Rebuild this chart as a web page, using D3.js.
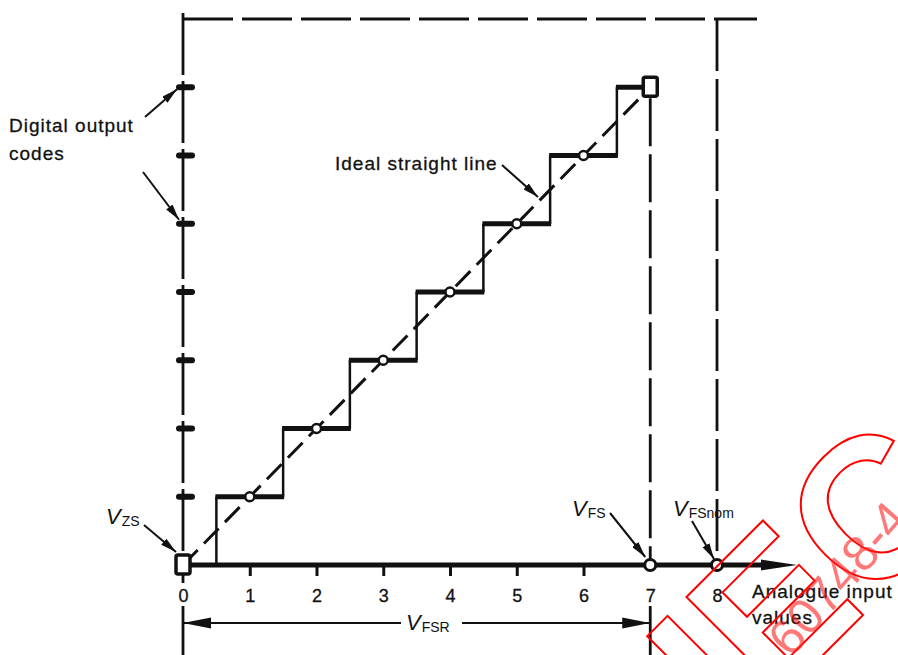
<!DOCTYPE html>
<html>
<head>
<meta charset="utf-8">
<script src="https://cdn.jsdelivr.net/npm/d3@7"></script>
<style>
	body { margin: 0; background: #fff; }
	svg text { font-family: "Liberation Sans", Arial, Helvetica, sans-serif; fill: #111; }
	.lbl { font-size: 19px; letter-spacing: 1px; stroke: #111; stroke-width: 0.3px; }
	.tick text { font-size: 18px; stroke: #111; stroke-width: 0.3px; }
</style>
</head>
<body>
<div id="graphicContainer"></div>
<script>

// analogue input (in LSB) and the digital output codes
var xTicks = [0, 1, 2, 3, 4, 5, 6, 7, 8];
var codeLevels = [1, 2, 3, 4, 5, 6, 7];
var stepStarts = [0.5, 1.5, 2.5, 3.5, 4.5, 5.5, 6.5];
var stepEnds = [1.5, 2.5, 3.5, 4.5, 5.5, 6.5, 7];
var codeCentres = [1, 2, 3, 4, 5, 6];
var idealLine = [{v: 0, code: 0}, {v: 7, code: 7}];
var vFS = 7;
var vFSnom = 8;
var topCode = 8;

var ink = "#111";

var svg = d3.select("#graphicContainer").append("svg")
	.attr("width", 898)
	.attr("height", 655)
	.style("display", "block");

var x = d3.scaleLinear().domain([0, 8]).range([183, 717]);
var y = d3.scaleLinear().domain([0, 8]).range([565, 19]);

var defs = svg.append("defs");

defs.append("marker")
	.attr("id", "head")
	.attr("viewBox", "0 -4 16 8")
	.attr("refX", 16)
	.attr("refY", 0)
	.attr("markerWidth", 16)
	.attr("markerHeight", 8)
	.attr("markerUnits", "userSpaceOnUse")
	.attr("orient", "auto")
  .append("path")
	.attr("d", "M0,-4L16,0L0,4Z")
	.attr("fill", ink);

defs.append("marker")
	.attr("id", "dim")
	.attr("viewBox", "0 -6 28 12")
	.attr("refX", 28)
	.attr("refY", 0)
	.attr("markerWidth", 28)
	.attr("markerHeight", 12)
	.attr("markerUnits", "userSpaceOnUse")
	.attr("orient", "auto-start-reverse")
  .append("path")
	.attr("d", "M0,-5.5L28,0L0,5.5Z")
	.attr("fill", ink);

function seg(x1, y1, x2, y2, w, dash) {
	var l = svg.append("line")
		.attr("x1", x1).attr("y1", y1)
		.attr("x2", x2).attr("y2", y2)
		.attr("stroke", ink)
		.attr("stroke-width", w);
	if (dash) l.attr("stroke-dasharray", dash);
	return l;
}

// frame: top dashed line, y axis, full scale verticals
seg(x(0), y(topCode), x(vFSnom) + 40, y(topCode), 2.8, "50,9");
seg(x(0), y(topCode) - 6, x(0), y(0), 2.8, "62,6");
seg(x(0), y(0), x(0), y(0) + 18, 2.8);
seg(x(0), y(0) + 41, x(0), 655, 2.8);
seg(x(vFS), y(7) + 11, x(vFS), y(0) - 6, 2.8, "48,8");
seg(x(vFS), y(0) + 41, x(vFS), 655, 2.8);
seg(x(vFSnom), y(topCode), x(vFSnom), y(0) - 6, 2.8, "52,8");

// x axis
seg(x(0), y(0), x(vFSnom) + 60, y(0), 5);
svg.append("path")
	.attr("d", "M" + (x(vFSnom) + 44) + "," + (y(0) - 5.5) + "L" + (x(vFSnom) + 80) + "," + y(0) + "L" + (x(vFSnom) + 44) + "," + (y(0) + 5.5) + "Z")
	.attr("fill", ink);

var xAxis = d3.axisBottom(x)
	.tickValues(xTicks)
	.tickSize(11)
	.tickPadding(13)
	.tickFormat(d3.format("d"));

var gx = svg.append("g")
	.attr("class", "x axis")
	.attr("transform", "translate(0," + y(0) + ")")
	.call(xAxis);
gx.select(".domain").remove();
gx.selectAll(".tick line")
	.attr("stroke", ink)
	.attr("stroke-width", 3)
	.attr("opacity", function(d) { return (d === 0 || d >= vFS) ? 0 : 1; });
gx.selectAll(".tick text")
	.attr("fill", ink)
	.attr("font-family", null)
	.attr("font-size", null);

// digital output code marks on the y axis
svg.selectAll(".codeTick")
	.data(codeLevels)
  .enter().append("line")
	.attr("class", "codeTick")
	.attr("x1", x(0) - 4)
	.attr("x2", x(0) + 9)
	.attr("y1", function(d) { return y(d); })
	.attr("y2", function(d) { return y(d); })
	.attr("stroke", ink)
	.attr("stroke-width", 6)
	.attr("stroke-linecap", "round");

// ideal straight line
var ideal = d3.line()
	.x(function(d) { return x(d.v); })
	.y(function(d) { return y(d.code); });

svg.append("path")
	.datum(idealLine)
	.attr("d", ideal)
	.attr("fill", "none")
	.attr("stroke", ink)
	.attr("stroke-width", 3)
	.attr("stroke-dasharray", "21,9");

// staircase: thin risers, heavy treads
svg.selectAll(".riser")
	.data(stepStarts)
  .enter().append("line")
	.attr("class", "riser")
	.attr("x1", function(d) { return x(d); })
	.attr("x2", function(d) { return x(d); })
	.attr("y1", function(d, i) { return y(i); })
	.attr("y2", function(d, i) { return y(i + 1); })
	.attr("stroke", ink)
	.attr("stroke-width", 2.5);

svg.selectAll(".tread")
	.data(codeLevels)
  .enter().append("line")
	.attr("class", "tread")
	.attr("x1", function(d, i) { return x(stepStarts[i]) - 1; })
	.attr("x2", function(d, i) { return x(stepEnds[i]) + 1; })
	.attr("y1", function(d) { return y(d); })
	.attr("y2", function(d) { return y(d); })
	.attr("stroke", ink)
	.attr("stroke-width", 5);

svg.selectAll(".centre")
	.data(codeCentres)
  .enter().append("circle")
	.attr("class", "centre")
	.attr("cx", function(d) { return x(d); })
	.attr("cy", function(d) { return y(d); })
	.attr("r", 4.5)
	.attr("fill", "#fff")
	.attr("stroke", ink)
	.attr("stroke-width", 2.5);

// end points
[{v: 0, code: 0}, {v: vFS, code: 7}].forEach(function(p) {
	svg.append("rect")
		.attr("x", x(p.v) - 7)
		.attr("y", y(p.code) - 10)
		.attr("width", 14)
		.attr("height", 19)
		.attr("rx", 2)
		.attr("fill", "#fff")
		.attr("stroke", ink)
		.attr("stroke-width", 3.5);
});

[vFS, vFSnom].forEach(function(v) {
	svg.append("circle")
		.attr("cx", x(v))
		.attr("cy", y(0))
		.attr("r", 5.5)
		.attr("fill", "#fff")
		.attr("stroke", ink)
		.attr("stroke-width", 3);
});

// labels
function label(tx, ty, str) {
	svg.append("text").attr("class", "lbl").attr("x", tx).attr("y", ty).text(str);
}
label(9, 132, "Digital output");
label(9, 160, "codes");
label(335, 170, "Ideal straight line");
label(752, 598, "Analogue input");
label(752, 624, "values");

function vlabel(tx, ty, sub) {
	var t = svg.append("text").attr("x", tx).attr("y", ty);
	t.append("tspan").attr("font-size", 22).attr("font-style", "italic").text("V");
	t.append("tspan").attr("font-size", 14).attr("dx", 1).attr("dy", 2).text(sub);
}
vlabel(106, 524, "ZS");
vlabel(572, 516, "FS");
vlabel(673, 516, "FSnom");

function arrow(x1, y1, x2, y2) {
	seg(x1, y1, x2, y2, 2).attr("marker-end", "url(#head)");
}
arrow(145, 117, x(0) - 6, y(7) + 2);
arrow(143, 172, x(0) - 4, y(5) - 4);
arrow(502, 165, 538, 197);
arrow(144, 525, x(0) - 7, y(0) - 13);
arrow(610, 513, x(vFS) - 5, y(0) - 8);
arrow(692, 521, x(vFSnom) - 3, y(0) - 6);

// V_FSR dimension
var dimY = 623;
seg(x(0), dimY, 401, dimY, 2).attr("marker-start", "url(#dim)");
seg(462, dimY, x(vFS), dimY, 2).attr("marker-end", "url(#dim)");
vlabel(406, 630, "FSR");

// watermark
var wm = svg.append("g").attr("pointer-events", "none");
wm.append("text")
	.attr("transform", "translate(735,743) rotate(-45)")
	.attr("font-size", 200)
	.attr("font-weight", "bold")
	.style("fill", "none")
	.attr("stroke", "#ff0000")
	.attr("stroke-width", 2)
	.text("IEC");
wm.append("text")
	.attr("transform", "translate(791,659) rotate(-49)")
	.attr("font-size", 50)
	.style("fill", "#ff2020")
	.attr("opacity", 0.6)
	.text("60748-4");

</script>
</body>
</html>
